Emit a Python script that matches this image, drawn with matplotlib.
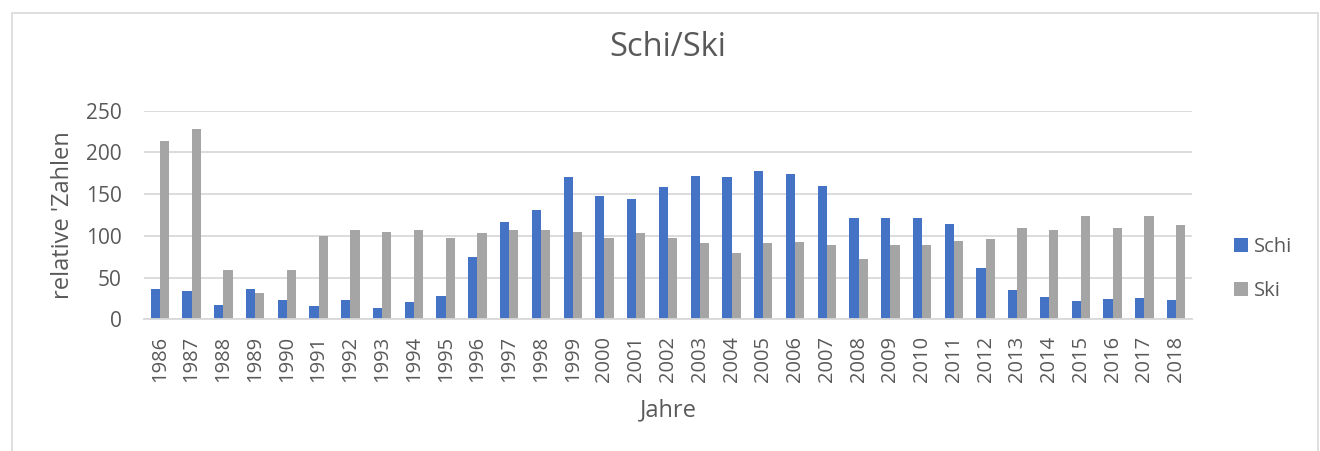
import numpy as np
import matplotlib
matplotlib.use('Agg')
import matplotlib.pyplot as plt
from matplotlib.patches import Rectangle

plt.rcParams['font.family'] = ['Open Sans', 'DejaVu Sans']

years = [str(y) for y in range(1986, 2019)]
schi = [36, 34, 17, 36, 23, 16, 23, 13, 21, 28, 75, 117, 131, 170, 148, 144, 158, 172, 170, 178,
        174, 160, 121, 121, 121, 114, 61, 35, 27, 22, 24, 26, 23]
ski = [214, 228, 59, 32, 59, 100, 107, 105, 107, 98, 103, 107, 107, 105, 97, 103, 97, 92, 80, 92,
       93, 89, 72, 89, 89, 94, 96, 109, 107, 124, 110, 124, 113]

txt = '#595959'
grid_c = '#d9d9d9'

fig = plt.figure(figsize=(13.2, 4.51), dpi=100)
ax = fig.add_axes([144 / 1320, 1 - 319.3 / 451, 1048 / 1320, 208.6 / 451])

x = np.arange(len(years))
w = 0.29
ax.bar(x - w / 2, schi, w, color='#4472c4', label='Schi', zorder=3)
ax.bar(x + w / 2, ski, w, color='#a5a5a5', label='Ski', zorder=3)

ax.set_xlim(-0.5, len(years) - 0.5)
ax.set_ylim(0, 250)
ax.set_yticks(range(0, 251, 50))
ax.set_xticks(x)
ax.set_xticklabels(years, rotation=90)
ax.yaxis.grid(True, color=grid_c, lw=1.3, zorder=0)
for s in ['top', 'right', 'left']:
    ax.spines[s].set_visible(False)
ax.spines['bottom'].set_color(grid_c)
ax.spines['bottom'].set_linewidth(1.3)
ax.spines['bottom'].set_zorder(4)
ax.tick_params(axis='y', length=0, labelsize=15, labelcolor=txt, pad=16)
ax.tick_params(axis='x', length=0, labelsize=14.5, labelcolor=txt, pad=12)

ax.set_xlabel('Jahre', fontsize=17, color=txt, va='center')
ax.xaxis.set_label_coords(0.5, (319.3 - 410) / 208.6)
ax.set_ylabel("relative 'Zahlen", fontsize=17, color=txt, va='center')
ax.yaxis.set_label_coords((63 - 144) / 1048, 0.5)
ax.set_title('Schi/Ski', fontsize=23.5, color=txt, y=(319.3 - 56) / 208.6, va='center')

fig.legend(loc='center left', bbox_to_anchor=(1234 / 1320, 1 - 269 / 451), frameon=False,
           fontsize=14.5, labelcolor=txt, handlelength=0.7, handleheight=0.7,
           handletextpad=0.3, labelspacing=1.2, borderpad=0, borderaxespad=0)

fig.patches.append(Rectangle((12 / 1320, -0.1), 1306 / 1320, 1.1 - 12.5 / 451,
                             transform=fig.transFigure, fill=False, ec=grid_c, lw=1.2))

fig.savefig('out.png', dpi=100)
